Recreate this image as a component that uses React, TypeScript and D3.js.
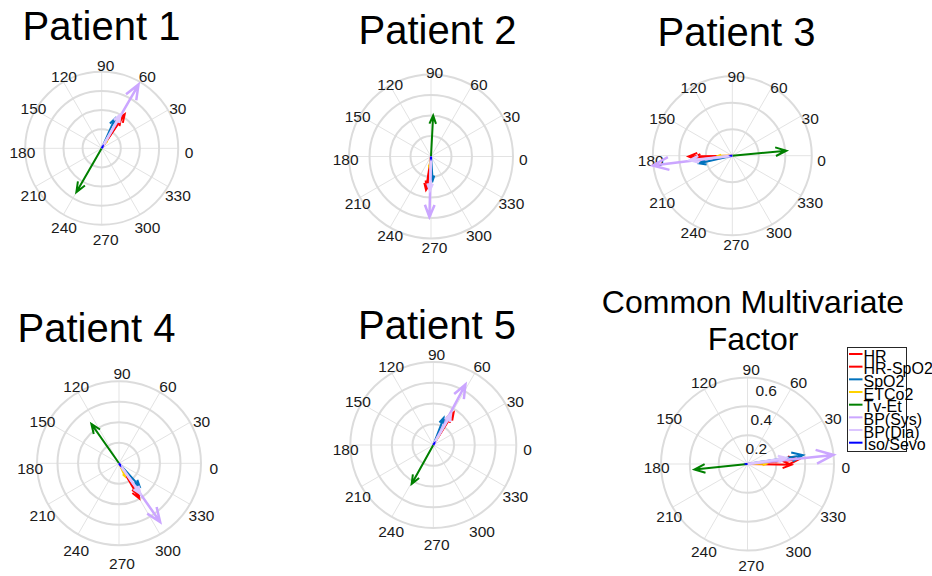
import React from "react";
import * as d3 from "d3";

// ---- data ----
const seriesNames = ["HR", "HR-SpO2", "SpO2", "ETCo2", "Tv-Et", "BP(Sys)", "BP(Dia)", "Iso/Sevo"];
const seriesColors = ["#ff0000", "#ff0000", "#0072bd", "#ffd200", "#008000", "#cba6ff", "#dcc6ff", "#0000ff"];
const seriesWidths = [2, 2, 2, 2, 2, 2.5, 2.5, 2];
const angleTicks = [0, 30, 60, 90, 120, 150, 180, 210, 240, 270, 300, 330];
const panelTitles = ["Patient 1", "Patient 2", "Patient 3", "Patient 4", "Patient 5", "Common Multivariate Factor"];
const panelRMax = [0.8, 0.8, 0.6, 0.8, 0.8, 0.6];
const panelRings = [4, 4, 3, 4, 4, 3];
const commonRingLabels = ["0.2", "0.4", "0.6"];

// angles in degrees, magnitudes in data units, in seriesNames order
const p1Angle = [56, 57, 66, 55, 240, 60, 61, 60];
const p1Mag = [0.43, 0.37, 0.34, 0.1, 0.53, 0.77, 0.4, 0.02];
const p2Angle = [261.5, 263, 274, 261, 87, 268.5, 268, 270];
const p2Mag = [0.33, 0.3, 0.235, 0.105, 0.4, 0.59, 0.33, 0.02];
const p3Angle = [181, 183, 193, 180, 5.3, 187, 186, 180];
const p3Mag = [0.33, 0.3, 0.255, 0.105, 0.41, 0.605, 0.32, 0.01];
const p4Angle = [300, 302, 312, 295, 125, 305, 305, 300];
const p4Mag = [0.395, 0.36, 0.3, 0.14, 0.47, 0.7, 0.36, 0.02];
const p5Angle = [58, 59, 69, 59, 241, 62, 60, 60];
const p5Mag = [0.37, 0.33, 0.28, 0.095, 0.43, 0.66, 0.34, 0.02];
const cAngle = [5, 359, 9, 1, 186, 6, 9, 180];
const cMag = [0.355, 0.305, 0.39, 0.13, 0.37, 0.6, 0.27, 0.01];

const panelAngles = [p1Angle, p2Angle, p3Angle, p4Angle, p5Angle, cAngle];
const panelMags = [p1Mag, p2Mag, p3Mag, p4Mag, p5Mag, cMag];

// ---- layout ----
// lx/ly: label ellipse radii (px), ox/oy: label offset
const layout = [
  { cx: 101.7, cy: 148.3, R: 76.5, tx: 101.5, ty: [40], lx: 83.3, ly: 86.9, ox: 4, oy: 3.9 },
  { cx: 431, cy: 156.5, R: 82, tx: 437.5, ty: [44], lx: 88.8, ly: 87.3, ox: 3.5, oy: 3.3 },
  { cx: 732.3, cy: 155.7, R: 79.5, tx: 736.5, ty: [46], lx: 85.4, ly: 83.9, ox: 3.9, oy: 4.4 },
  { cx: 119, cy: 463.3, R: 82, tx: 96.5, ty: [342], lx: 91.8, ly: 94.8, ox: 3, oy: 5.2 },
  { cx: 433.3, cy: 445, R: 83, tx: 437, ty: [339], lx: 90.9, ly: 95, ox: 3.3, oy: 4.2 },
  { cx: 747.5, cy: 464, R: 86.5, tx: 753, ty: [313, 350], lx: 94.6, ly: 97.9, ox: 3.7, oy: 3.1 },
];

const FONT = "'Liberation Sans', Arial, sans-serif";

function Panel({ idx }: { idx: number }) {
  const L = layout[idx];
  const rMax = panelRMax[idx];
  const nR = panelRings[idx];
  const r = d3.scaleLinear().domain([0, rMax]).range([0, L.R]);
  const rings = d3.range(1, nR + 1).map((i) => (rMax * i) / nR);
  const toXY = (deg: number, v: number): [number, number] => {
    const a = (deg * Math.PI) / 180;
    return [L.cx + r(v) * Math.cos(a), L.cy - r(v) * Math.sin(a)];
  };
  const line = d3.line();
  const angles = panelAngles[idx];
  const mags = panelMags[idx];
  const isCommon = idx === 5;
  const titleLines = isCommon ? ["Common Multivariate", "Factor"] : [panelTitles[idx]];
  return (
    <g>
      {titleLines.map((t, i) => (
        <text key={i} x={L.tx} y={L.ty[i]} textAnchor="middle" fontSize={isCommon ? 32 : 40} fill="#000" fontFamily={FONT}>
          {t}
        </text>
      ))}
      {angleTicks.map((a) => {
        const [x, y] = toXY(a, rMax);
        return <line key={"s" + a} x1={L.cx} y1={L.cy} x2={x} y2={y} stroke="#e3e3e3" strokeWidth={1} />;
      })}
      {rings.map((v, i) => (
        <circle key={"c" + i} cx={L.cx} cy={L.cy} r={r(v)} fill="none" stroke="#dcdcdc" strokeWidth={2} />
      ))}
      {angleTicks.map((a) => {
        const t = (a * Math.PI) / 180;
        const x = L.cx + L.ox + L.lx * Math.cos(t);
        const y = L.cy + L.oy - L.ly * Math.sin(t);
        return (
          <text key={"t" + a} x={x} y={y} textAnchor="middle" dominantBaseline="central" fontSize={15.5} fill="#1a1a1a" fontFamily={FONT}>
            {a}
          </text>
        );
      })}
      {isCommon &&
        rings.map((v, i) => (
          <text key={"rl" + i} x={L.cx + r(v) * 0.17 + 4} y={L.cy - r(v) + 13} textAnchor="middle" dominantBaseline="central" fontSize={15.5} fill="#1a1a1a" fontFamily={FONT}>
            {commonRingLabels[i]}
          </text>
        ))}
      {seriesNames.map((name, k) => {
        const a = (angles[k] * Math.PI) / 180;
        const m = mags[k];
        const zx = Math.cos(a) * m;
        const zy = Math.sin(a) * m;
        // MATLAB compass arrow: [0, 1, .8+.08i, 1, .8-.08i] * z
        const pts: [number, number][] = [
          [0, 0],
          [zx, zy],
          [0.8 * zx - 0.08 * zy, 0.8 * zy + 0.08 * zx],
          [zx, zy],
          [0.8 * zx + 0.08 * zy, 0.8 * zy - 0.08 * zx],
        ];
        const px = pts.map(([u, v]) => [L.cx + r(u), L.cy - r(v)] as [number, number]);
        return (
          <path key={name} d={line(px) || ""} fill="none" stroke={seriesColors[k]} strokeWidth={seriesWidths[k]} strokeLinejoin="miter" strokeLinecap="butt" />
        );
      })}
    </g>
  );
}

function Legend() {
  const x0 = 847.5, y0 = 347.5, w = 59, h = 104;
  const step = 12.67;
  return (
    <g>
      <rect x={x0} y={y0} width={w} height={h} fill="#fff" stroke="#262626" strokeWidth={1} />
      {seriesNames.map((n, i) => {
        const y = 354 + i * step;
        return (
          <g key={n}>
            <line x1={849} x2={862.5} y1={y} y2={y} stroke={seriesColors[i]} strokeWidth={2} />
            <text x={863.5} y={y + 2} dominantBaseline="central" fontSize={16} fill="#000" fontFamily={FONT}>
              {n}
            </text>
          </g>
        );
      })}
    </g>
  );
}

export default function App() {
  return (
    <svg width={932} height={576} style={{ position: "absolute", left: 0, top: 0, background: "#fff" }}>
      <rect width={932} height={576} fill="#fff" />
      {layout.map((_, i) => (
        <Panel key={i} idx={i} />
      ))}
      <Legend />
    </svg>
  );
}
